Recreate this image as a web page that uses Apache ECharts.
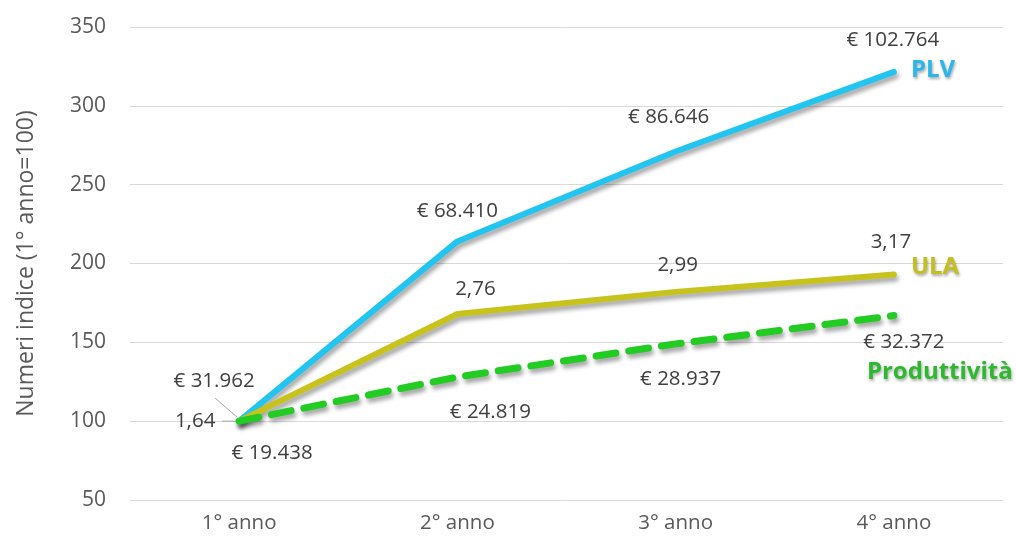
<!DOCTYPE html>
<html>
<head>
<meta charset="utf-8">
<script src="https://cdn.jsdelivr.net/npm/echarts@6/dist/echarts.min.js"></script>
<style>
html,body{margin:0;padding:0;background:#fff;}
#chart{width:1016px;height:539px;}
</style>
</head>
<body>
<div id="chart"></div>
<script>
const categories = ['1° anno', '2° anno', '3° anno', '4° anno'];
const seriesNames = ['PLV', 'ULA', 'Produttività'];
const plvValues = [100, 214, 271, 321.5];
const ulaValues = [100, 168, 182, 193];
const prodValues = [100, 128, 149, 167];
const plvLabels = ['€ 31.962', '€ 68.410', '€ 86.646', '€ 102.764'];
const ulaLabels = ['1,64', '2,76', '2,99', '3,17'];
const prodLabels = ['€ 19.438', '€ 24.819', '€ 28.937', '€ 32.372'];
const yTicks = { min: 50, max: 350, interval: 50 };
const yAxisTitle = 'Numeri indice (1° anno=100)';

const FONT = '"Open Sans", "Noto Sans", sans-serif';

// label offsets (style, kept separate from data)
const plvOffsets = [[-25, -40], [0, -30], [-7, -34], [-1, -32]];
const ulaOffsets = [[-44, 0], [18, -25], [2, -27], [-3, -32]];
const prodOffsets = [[33, 32], [33, 35], [5, 35], [10, 27]];

function buildData(values, labels, offsets) {
  return values.map((v, i) => ({
    value: v,
    label: {
      formatter: labels[i],
      position: 'inside',
      offset: offsets[i]
    }
  }));
}

const labelBase = {
  show: true,
  color: '#404040',
  fontSize: 20.5,
  fontFamily: FONT
};

const shadow = {
  shadowColor: 'rgba(0,0,0,0.35)',
  shadowBlur: 4,
  shadowOffsetX: 2,
  shadowOffsetY: 4
};

function endLabel(color, offset) {
  return {
    show: true,
    formatter: '{a}',
    color: color,
    fontWeight: 'bold',
    fontSize: 24,
    fontFamily: FONT,
    distance: 17,
    offset: offset,
    textShadowColor: 'rgba(0,0,0,0.35)',
    textShadowBlur: 3,
    textShadowOffsetX: 1,
    textShadowOffsetY: 2
  };
}

const chart = echarts.init(document.getElementById('chart'), null, { renderer: 'canvas' });
chart.setOption({
  backgroundColor: '#ffffff',
  animation: false,
  grid: { left: 130, right: 13, top: 27, bottom: 39 },
  xAxis: {
    type: 'category',
    data: categories,
    boundaryGap: true,
    axisLine: { show: false },
    axisTick: { show: false },
    axisLabel: { color: '#595959', fontSize: 20.5, fontFamily: FONT, margin: 13 }
  },
  yAxis: {
    type: 'value',
    min: yTicks.min,
    max: yTicks.max,
    interval: yTicks.interval,
    axisLine: { show: false },
    axisTick: { show: false },
    axisLabel: { color: '#595959', fontSize: 21, fontFamily: FONT, margin: 24 },
    splitLine: { lineStyle: { color: '#d9d9d9', width: 1 } },
    name: yAxisTitle,
    nameLocation: 'middle',
    nameGap: 92,
    nameTextStyle: { color: '#595959', fontSize: 23, fontFamily: FONT }
  },
  series: [
    {
      name: seriesNames[0],
      type: 'line',
      symbol: 'circle',
      symbolSize: 1,
      showSymbol: true,
      data: buildData(plvValues, plvLabels, plvOffsets),
      lineStyle: Object.assign({ color: '#22c4f0', width: 6, cap: 'round', join: 'round' }, shadow),
      itemStyle: { color: 'rgba(0,0,0,0)' },
      label: labelBase,
      endLabel: endLabel('#2bb7ea', [0, -2]),
      z: 2
    },
    {
      name: seriesNames[1],
      type: 'line',
      symbol: 'circle',
      symbolSize: 1,
      showSymbol: true,
      data: buildData(ulaValues, ulaLabels, ulaOffsets),
      lineStyle: Object.assign({ color: '#c8c31c', width: 6, cap: 'round', join: 'round' }, shadow),
      itemStyle: { color: 'rgba(0,0,0,0)' },
      label: labelBase,
      endLabel: endLabel('#c4bf1e', [0, -7]),
      z: 3
    },
    {
      name: seriesNames[2],
      type: 'line',
      symbol: 'circle',
      symbolSize: 1,
      showSymbol: true,
      data: buildData(prodValues, prodLabels, prodOffsets),
      lineStyle: Object.assign({ color: '#22cc22', width: 7, type: [20, 13], cap: 'round', join: 'round' }, shadow),
      itemStyle: { color: 'rgba(0,0,0,0)' },
      label: labelBase,
      endLabel: endLabel('#2db92d', [-44, 57]),
      z: 4
    }
  ]
});

// leader lines for the first-year labels, positioned via the chart's scales
const p0 = chart.convertToPixel({ gridIndex: 0 }, [0, plvValues[0]]);
chart.setOption({
  graphic: [
    { type: 'line', shape: { x1: p0[0] - 24, y1: p0[1] - 23, x2: p0[0] - 2, y2: p0[1] - 4 }, style: { stroke: '#a6a6a6', lineWidth: 1 }, z: 1 },
    { type: 'line', shape: { x1: p0[0] - 17, y1: p0[1], x2: p0[0] - 2, y2: p0[1] }, style: { stroke: '#a6a6a6', lineWidth: 1 }, z: 1 }
  ]
});
</script>
</body>
</html>
